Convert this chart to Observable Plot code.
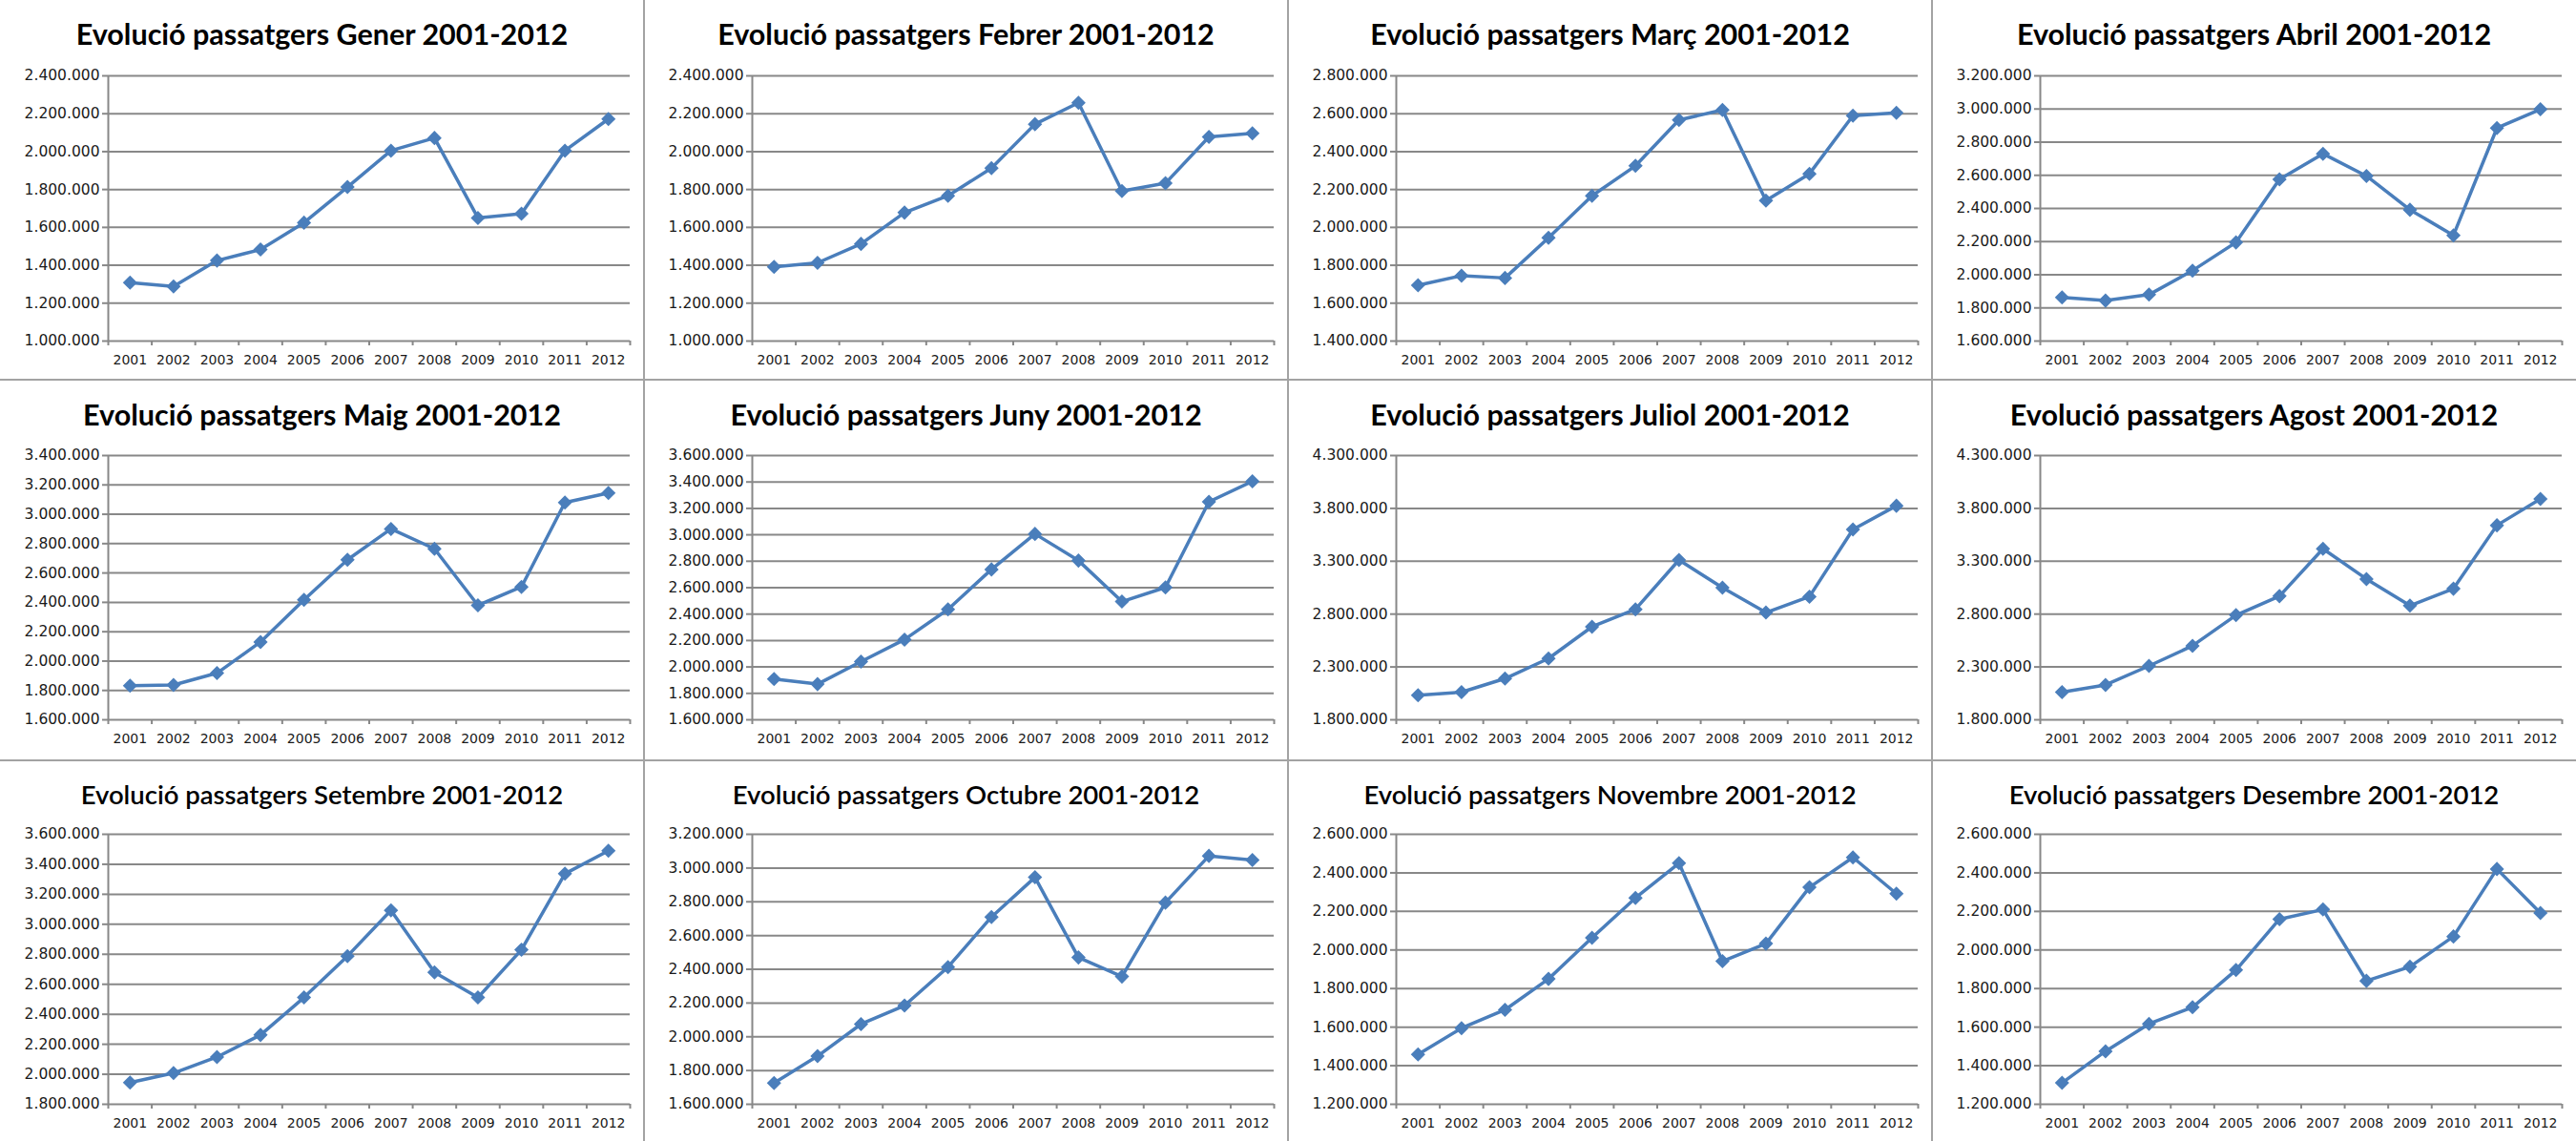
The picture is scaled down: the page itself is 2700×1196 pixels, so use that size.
<!DOCTYPE html>
<html><head><meta charset="utf-8">
<script src="https://cdn.jsdelivr.net/npm/d3@7"></script>
<script src="https://cdn.jsdelivr.net/npm/@observablehq/plot@0.6"></script>
<style>
body{margin:0;background:#fff;}
#wrap{position:relative;width:2700px;height:1196px;overflow:hidden;background:#fff;}
.panel{position:absolute;width:675px;height:399px;}
.title{position:absolute;left:0;width:100%;text-align:center;font-family:Lato,sans-serif;color:#000;white-space:nowrap;line-height:1;}
.panel svg{position:absolute;left:0;overflow:visible;}
.sep{position:absolute;background:#a3a3a3;}
.yax text{font-size:15.5px;}
</style></head><body><div id="wrap"></div>
<script>
const years = [2001, 2002, 2003, 2004, 2005, 2006, 2007, 2008, 2009, 2010, 2011, 2012];
const months = ["Gener", "Febrer", "Març", "Abril", "Maig", "Juny", "Juliol", "Agost", "Setembre", "Octubre", "Novembre", "Desembre"];

const gener    = [1308000, 1288000, 1425000, 1483000, 1625000, 1813000, 2005000, 2072000, 1650000, 1672000, 2005000, 2172000];
const febrer   = [1392000, 1413000, 1513000, 1678000, 1767000, 1913000, 2145000, 2258000, 1792000, 1833000, 2078000, 2097000];
const marc     = [1695000, 1745000, 1733000, 1945000, 2167000, 2325000, 2567000, 2620000, 2142000, 2283000, 2590000, 2605000];
const abril    = [1863000, 1844000, 1880000, 2025000, 2195000, 2575000, 2730000, 2596000, 2392000, 2238000, 2885000, 2998000];
const maig     = [1832000, 1837000, 1918000, 2130000, 2417000, 2690000, 2900000, 2765000, 2380000, 2505000, 3080000, 3145000];
const juny     = [1908000, 1870000, 2040000, 2207000, 2436000, 2738000, 3007000, 2805000, 2495000, 2602000, 3250000, 3405000];
const juliol   = [2032000, 2062000, 2190000, 2380000, 2680000, 2845000, 3312000, 3050000, 2815000, 2965000, 3600000, 3825000];
const agost    = [2062000, 2130000, 2310000, 2500000, 2790000, 2970000, 3418000, 3132000, 2880000, 3040000, 3640000, 3890000];
const setembre = [1945000, 2008000, 2115000, 2262000, 2512000, 2788000, 3093000, 2680000, 2512000, 2830000, 3337000, 3490000];
const octubre  = [1726000, 1885000, 2075000, 2185000, 2413000, 2710000, 2945000, 2470000, 2357000, 2795000, 3072000, 3047000];
const novembre = [1458000, 1595000, 1690000, 1850000, 2063000, 2270000, 2450000, 1942000, 2033000, 2325000, 2480000, 2292000];
const desembre = [1311000, 1475000, 1617000, 1703000, 1896000, 2160000, 2210000, 1840000, 1913000, 2070000, 2420000, 2192000];

const ticksGener    = [1000000, 1200000, 1400000, 1600000, 1800000, 2000000, 2200000, 2400000];
const ticksFebrer   = [1000000, 1200000, 1400000, 1600000, 1800000, 2000000, 2200000, 2400000];
const ticksMarc     = [1400000, 1600000, 1800000, 2000000, 2200000, 2400000, 2600000, 2800000];
const ticksAbril    = [1600000, 1800000, 2000000, 2200000, 2400000, 2600000, 2800000, 3000000, 3200000];
const ticksMaig     = [1600000, 1800000, 2000000, 2200000, 2400000, 2600000, 2800000, 3000000, 3200000, 3400000];
const ticksJuny     = [1600000, 1800000, 2000000, 2200000, 2400000, 2600000, 2800000, 3000000, 3200000, 3400000, 3600000];
const ticksJuliol   = [1800000, 2300000, 2800000, 3300000, 3800000, 4300000];
const ticksAgost    = [1800000, 2300000, 2800000, 3300000, 3800000, 4300000];
const ticksSetembre = [1800000, 2000000, 2200000, 2400000, 2600000, 2800000, 3000000, 3200000, 3400000, 3600000];
const ticksOctubre  = [1600000, 1800000, 2000000, 2200000, 2400000, 2600000, 2800000, 3000000, 3200000];
const ticksNovembre = [1200000, 1400000, 1600000, 1800000, 2000000, 2200000, 2400000, 2600000];
const ticksDesembre = [1200000, 1400000, 1600000, 1800000, 2000000, 2200000, 2400000, 2600000];

const series = [gener, febrer, marc, abril, maig, juny, juliol, agost, setembre, octubre, novembre, desembre];
const tickSets = [ticksGener, ticksFebrer, ticksMarc, ticksAbril, ticksMaig, ticksJuny, ticksJuliol, ticksAgost, ticksSetembre, ticksOctubre, ticksNovembre, ticksDesembre];

const fmt = d3.formatLocale({decimal: ",", thousands: ".", grouping: [3], currency: ["", ""]}).format(",");
const LINE = "#4A7EBB", GRID = "#888888";

// row geometry: panel top, plot top, plot bottom (absolute px)
const rows = [
  {top: 0,   plotTop: 79,  plotBottom: 357, titleY: 35, titleSize: 30.5, titleWeight: 700},
  {top: 398, plotTop: 477, plotBottom: 754, titleY: 36, titleSize: 30.5, titleWeight: 700},
  {top: 797, plotTop: 874, plotBottom: 1157, titleY: 36, titleSize: 27.5, titleWeight: 600}
];

function chart(values, ticks, row) {
  const data = years.map((y, i) => ({year: y, value: values[i]}));
  const bounds = [...years.map(y => y - 0.5), years[years.length - 1] + 0.5];
  const marginTop = 20, H = 340;
  const plotH = row.plotBottom - row.plotTop;
  return Plot.plot({
    width: 675, height: H,
    marginLeft: 113, marginRight: 15, marginTop, marginBottom: H - marginTop - plotH,
    style: {fontFamily: "'DejaVu Sans', sans-serif", fontSize: "14px", color: "#1a1a1a", background: "transparent"},
    x: {domain: [bounds[0], bounds[bounds.length - 1]], axis: null, label: null},
    y: {domain: [ticks[0], ticks[ticks.length - 1]], axis: null, label: null},
    marks: [
      Plot.ruleY(ticks, {stroke: GRID, strokeWidth: 2}),
      Plot.axisY(ticks, {tickFormat: fmt, tickSize: 6, tickPadding: 3, stroke: GRID, strokeWidth: 2, label: null, className: "yax"}),
      Plot.ruleX([bounds[0]], {stroke: GRID, strokeWidth: 2}),
      Plot.axisX(bounds, {tickSize: 5, tickFormat: () => "", stroke: GRID, strokeWidth: 2, label: null}),
      Plot.axisX(years, {tickSize: 0, tickPadding: 15, tickFormat: d => String(d), label: null}),
      Plot.line(data, {x: "year", y: "value", stroke: LINE, strokeWidth: 3.5}),
      Plot.dot(data, {x: "year", y: "value", symbol: "square", r: 6, rotate: 45, fill: LINE, stroke: "none"})
    ]
  });
}

const wrap = document.getElementById("wrap");
months.forEach((m, i) => {
  const r = Math.floor(i / 4), c = i % 4;
  const row = rows[r];
  const p = document.createElement("div");
  p.className = "panel";
  p.style.left = (c * 675) + "px";
  p.style.top = row.top + "px";
  const t = document.createElement("div");
  t.className = "title";
  t.textContent = `Evolució passatgers ${m} 2001-2012`;
  t.style.fontSize = row.titleSize + "px";
  t.style.fontWeight = row.titleWeight;
  t.style.top = (row.titleY - row.titleSize / 2) + "px";
  p.appendChild(t);
  const svg = chart(series[i], tickSets[i], row);
  svg.style.top = (row.plotTop - row.top - 20) + "px";
  p.appendChild(svg);
  wrap.appendChild(p);
});
// panel separators
[675, 1350, 2025].forEach(x => {
  const d = document.createElement("div");
  d.className = "sep";
  Object.assign(d.style, {left: (x - 1) + "px", top: "0px", width: "2px", height: "1196px"});
  wrap.appendChild(d);
});
[398, 797].forEach(y => {
  const d = document.createElement("div");
  d.className = "sep";
  Object.assign(d.style, {left: "0px", top: (y - 1) + "px", width: "2700px", height: "2px"});
  wrap.appendChild(d);
});
</script></body></html>
